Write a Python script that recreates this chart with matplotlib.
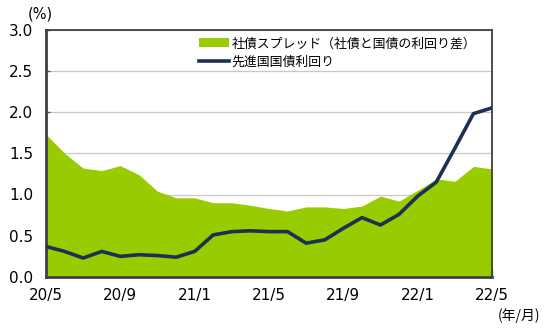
import matplotlib
matplotlib.use("Agg")
import matplotlib.pyplot as plt
import numpy as np

plt.rcParams['font.family'] = ['DejaVu Sans', 'Noto Sans CJK JP']

months = ["20/5", "20/6", "20/7", "20/8", "20/9", "20/10", "20/11", "20/12",
          "21/1", "21/2", "21/3", "21/4", "21/5", "21/6", "21/7", "21/8",
          "21/9", "21/10", "21/11", "21/12", "22/1", "22/2", "22/3", "22/4", "22/5"]
spread = [1.73, 1.50, 1.32, 1.29, 1.35, 1.24, 1.04, 0.96,
          0.96, 0.90, 0.90, 0.87, 0.83, 0.80, 0.85, 0.85,
          0.83, 0.86, 0.98, 0.92, 1.05, 1.19, 1.16, 1.34, 1.31]
govt_yield = [0.37, 0.31, 0.23, 0.31, 0.25, 0.27, 0.26, 0.24,
              0.31, 0.51, 0.55, 0.56, 0.55, 0.55, 0.41, 0.45,
              0.59, 0.72, 0.63, 0.76, 0.98, 1.15, 1.56, 1.98, 2.05]
tick_labels = ["20/5", "20/9", "21/1", "21/5", "21/9", "22/1", "22/5"]
y_ticks = [0.0, 0.5, 1.0, 1.5, 2.0, 2.5, 3.0]
legend_labels = ["社債スプレッド（社債と国債の利回り差）", "先進国国債利回り"]

fig = plt.figure(figsize=(5.5, 3.28), dpi=100)
ax = fig.add_axes([46/550, 1-277/328, (492-46)/550, (277-29.5)/328])

x = np.arange(len(months))
ax.fill_between(x, 0, spread, color='#99CC00', linewidth=0, label=legend_labels[0], zorder=2)
ax.plot(x, govt_yield, color='#1B3154', linewidth=2.6, label=legend_labels[1], zorder=3)

ax.set_xlim(0, len(months)-1)
ax.set_ylim(0, 3.0)
ax.set_yticks(y_ticks)
ax.set_yticklabels([f"{v:.1f}" for v in y_ticks], fontsize=11)
tick_pos = [months.index(t) for t in tick_labels]
ax.set_xticks(tick_pos)
ax.set_xticklabels(tick_labels, fontsize=11)
ax.tick_params(axis='x', direction='in', length=5, width=1, color='#555555', pad=8)
ax.tick_params(axis='y', direction='in', length=3, width=1, color='#555555', pad=9)
ax.grid(axis='y', color='#C8C8C8', linewidth=0.9, zorder=1)
ax.set_axisbelow(True)
for s in ax.spines.values():
    s.set_color('#404040')
    s.set_linewidth(1.3)
ax.spines['left'].set_linewidth(2)
ax.spines['bottom'].set_linewidth(2)

leg = ax.legend(loc='upper left', bbox_to_anchor=(0.32, 1.01), frameon=False,
                prop={'family': ['Noto Sans CJK JP'], 'size': 9.3},
                handlelength=2.3, handletextpad=0.2, labelspacing=0.38, borderpad=0.3)

fig.text(28/550, 1-14/328, "(%)", fontsize=10.5, ha='left', va='center')
fig.text(540/550, 1-316/328, "(年/月)", fontsize=10, ha='right', va='center',
         family=['Noto Sans CJK JP'])

fig.savefig("out.png", dpi=100)
